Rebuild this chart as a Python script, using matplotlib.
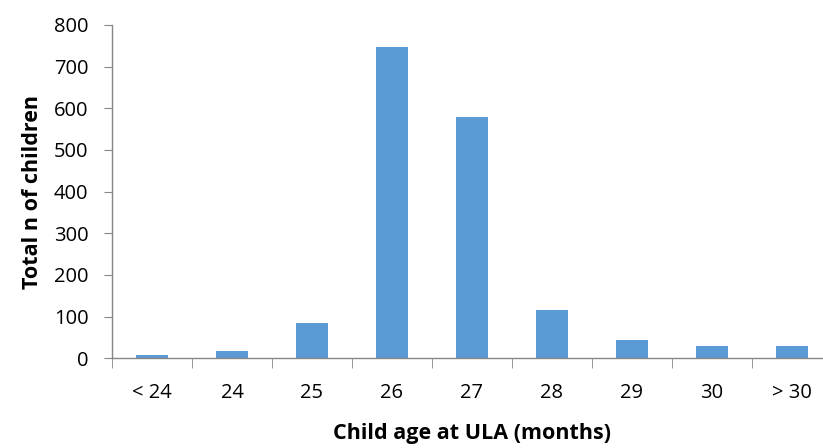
import matplotlib
matplotlib.use('Agg')
import matplotlib.pyplot as plt
import numpy as np

# Children per age group at ULA
categories = ["< 24", "24", "25", "26", "27", "28", "29", "30", "> 30"]
counts = [7, 17, 84, 748, 579, 116, 44, 30, 30]

plt.rcParams['font.family'] = ['Open Sans', 'DejaVu Sans']

fig = plt.figure(figsize=(8.23, 4.48), dpi=100)
# plot area runs slightly past the right edge, as in the original
ax = fig.add_axes([0.1361, 0.2002, 0.8748, 0.7440])

x = np.arange(len(categories))
ax.bar(x, counts, width=0.4, color='#5B9BD5', zorder=2)

ax.set_xlim(-0.5, len(categories) - 0.5)
ax.set_ylim(0, 800)
ax.set_yticks(range(0, 801, 100))
ax.tick_params(axis='y', labelsize=14.5, length=6, color='#868686', pad=11)

# category labels centred, tick marks between categories
ax.set_xticks(x)
ax.set_xticklabels(categories)
ax.tick_params(axis='x', which='major', length=0, labelsize=14.5, pad=18)
ax.set_xticks(np.arange(-0.5, len(categories)), minor=True)
ax.tick_params(axis='x', which='minor', length=7, color='#868686')

for side in ['top', 'right']:
    ax.spines[side].set_visible(False)
for side in ['left', 'bottom']:
    ax.spines[side].set_color('#868686')
    ax.spines[side].set_linewidth(1)

ax.set_xlabel('Child age at ULA (months)', fontsize=15.5, fontweight='bold', labelpad=14)
ax.set_ylabel('Total n of children', fontsize=15.5, fontweight='bold', labelpad=8)

fig.savefig('out.png', dpi=100)
